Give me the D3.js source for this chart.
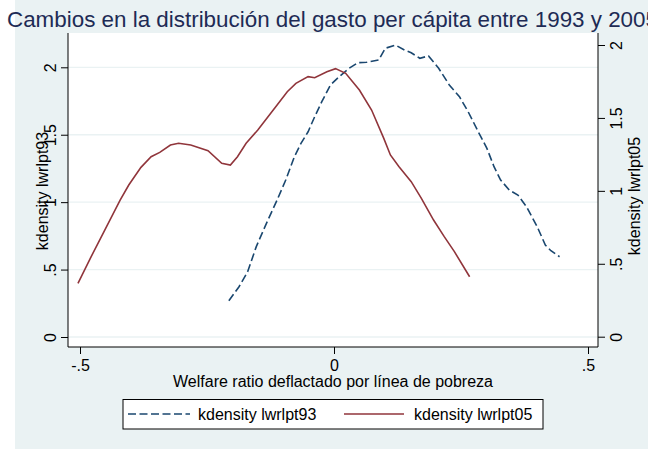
<!DOCTYPE html>
<html>
<head>
<meta charset="utf-8">
<script src="https://cdn.jsdelivr.net/npm/d3@7"></script>
<style>
  body { margin: 0; background: #fff; }
  svg { display: block; font-family: "Liberation Sans", Arial, Helvetica, sans-serif; }
</style>
</head>
<body>
<div id="chart"></div>
<script>
// kdensity lwrlpt93 (left axis)
const x93 = [-0.207, -0.187, -0.170, -0.153, -0.133, -0.112, -0.095, -0.078, -0.065, -0.051,
  -0.038, -0.024, -0.007, 0.010, 0.030, 0.047, 0.064, 0.088, 0.101, 0.121,
  0.139, 0.152, 0.169, 0.186, 0.206, 0.227, 0.247, 0.264, 0.284, 0.301,
  0.315, 0.328, 0.345, 0.362, 0.379, 0.400, 0.416, 0.427, 0.444];
const dens93 = [0.269, 0.373, 0.484, 0.670, 0.843, 1.016, 1.164, 1.337, 1.436, 1.522,
  1.634, 1.745, 1.869, 1.930, 1.993, 2.034, 2.037, 2.054, 2.141, 2.165,
  2.128, 2.108, 2.067, 2.084, 1.993, 1.869, 1.782, 1.671, 1.522, 1.399,
  1.263, 1.164, 1.090, 1.053, 0.966, 0.818, 0.682, 0.640, 0.595];

// kdensity lwrlpt05 (right axis)
const x05 = [-0.504, -0.478, -0.451, -0.421, -0.404, -0.380, -0.360, -0.343, -0.322, -0.306,
  -0.282, -0.248, -0.221, -0.204, -0.190, -0.173, -0.150, -0.112, -0.092, -0.075,
  -0.051, -0.038, -0.014, 0.003, 0.023, 0.050, 0.074, 0.098, 0.111, 0.128,
  0.152, 0.172, 0.196, 0.217, 0.237, 0.267];
const dens05 = [0.366, 0.549, 0.732, 0.937, 1.040, 1.161, 1.234, 1.264, 1.314, 1.326,
  1.314, 1.275, 1.189, 1.177, 1.234, 1.326, 1.417, 1.589, 1.680, 1.737,
  1.783, 1.776, 1.817, 1.838, 1.806, 1.691, 1.554, 1.360, 1.246, 1.166,
  1.063, 0.949, 0.800, 0.686, 0.583, 0.411];

const xTicks = [-0.5, 0, 0.5];
const xTickLabels = ["-.5", "0", ".5"];
const yTicks = [0, 0.5, 1, 1.5, 2];
const yTickLabels = ["0", ".5", "1", "1.5", "2"];

const titleText = "Cambios en la distribución del gasto per cápita entre 1993 y 2005";
const xTitle = "Welfare ratio deflactado por línea de pobreza";
const yTitleL = "kdensity lwrlpt93";
const yTitleR = "kdensity lwrlpt05";
const legendLabels = ["kdensity lwrlpt93", "kdensity lwrlpt05"];

const W = 648, H = 449;
const bg = "#eaf2f3";
const blue = "#1a476f", red = "#90353b";

// plot region
const plotL = 68, plotR = 598, plotT = 33, plotB = 347;

const x = d3.scaleLinear().domain([-0.5, 0.5]).range([80, 588]);
const yL = d3.scaleLinear().domain([0, 2]).range([337, 67.3]);
const yR = d3.scaleLinear().domain([0, 2]).range([336.7, 45]);

const svg = d3.select("#chart").append("svg")
  .attr("width", W).attr("height", H);

svg.append("rect").attr("width", W).attr("height", H).attr("fill", "#fff");
svg.append("rect").attr("x", 15).attr("y", 0).attr("width", W - 15).attr("height", H).attr("fill", bg);

// title (runs past the right edge, as in the original)
svg.append("text")
  .attr("x", 7).attr("y", 27)
  .attr("font-size", 22.4)
  .attr("fill", "#1e2b55")
  .text(titleText);

// plot area
svg.append("rect")
  .attr("x", plotL).attr("y", plotT)
  .attr("width", plotR - plotL).attr("height", plotB - plotT)
  .attr("fill", "#fff");

// grid lines
svg.selectAll(".grid")
  .data(yTicks)
  .enter().append("line")
  .attr("x1", plotL).attr("x2", plotR)
  .attr("y1", d => yL(d)).attr("y2", d => yL(d))
  .attr("stroke", bg).attr("stroke-width", 1.3);

// curves
const line93 = d3.line().x((d, i) => x(x93[i])).y(d => yL(d));
const line05 = d3.line().x((d, i) => x(x05[i])).y(d => yR(d));

svg.append("path")
  .attr("d", line93(dens93))
  .attr("fill", "none")
  .attr("stroke", blue)
  .attr("stroke-width", 1.6)
  .attr("stroke-dasharray", "8,3.5");

svg.append("path")
  .attr("d", line05(dens05))
  .attr("fill", "none")
  .attr("stroke", red)
  .attr("stroke-width", 1.6);

// left axis
const axL = svg.append("g").attr("transform", "translate(" + plotL + ",0)")
  .call(d3.axisLeft(yL).tickValues(yTicks).tickSize(7).tickFormat((d, i) => yTickLabels[i]));
axL.select(".domain").attr("d", "M0," + plotT + "V" + plotB);
axL.selectAll("text")
  .attr("font-size", 16).attr("fill", "#000")
  .attr("x", null).attr("dy", null)
  .attr("text-anchor", "middle")
  .attr("dominant-baseline", "central")
  .attr("transform", "translate(-18,0) rotate(-90)");

// right axis
const axR = svg.append("g").attr("transform", "translate(" + plotR + ",0)")
  .call(d3.axisRight(yR).tickValues(yTicks).tickSize(7).tickFormat((d, i) => yTickLabels[i]));
axR.select(".domain").attr("d", "M0," + plotT + "V" + plotB);
axR.selectAll("text")
  .attr("font-size", 16).attr("fill", "#000")
  .attr("x", null).attr("dy", null)
  .attr("text-anchor", "middle")
  .attr("dominant-baseline", "central")
  .attr("transform", "translate(18,0) rotate(-90)");

// bottom axis
const axB = svg.append("g").attr("transform", "translate(0," + plotB + ")")
  .call(d3.axisBottom(x).tickValues(xTicks).tickSize(7).tickFormat((d, i) => xTickLabels[i]));
axB.select(".domain").attr("d", "M" + plotL + ",0H" + plotR);
axB.selectAll("text")
  .attr("font-size", 16).attr("fill", "#000")
  .attr("y", 24).attr("dy", null);

svg.selectAll(".domain, .tick line").attr("stroke", "#000");

// axis titles
svg.append("text")
  .attr("transform", "translate(42,191) rotate(-90)")
  .attr("text-anchor", "middle").attr("dominant-baseline", "central")
  .attr("font-size", 16)
  .text(yTitleL);

svg.append("text")
  .attr("transform", "translate(634,196) rotate(-90)")
  .attr("text-anchor", "middle").attr("dominant-baseline", "central")
  .attr("font-size", 16)
  .text(yTitleR);

svg.append("text")
  .attr("x", 333).attr("y", 387)
  .attr("text-anchor", "middle")
  .attr("font-size", 16)
  .text(xTitle);

// legend
const lg = svg.append("g");
lg.append("rect")
  .attr("x", 123).attr("y", 399.5)
  .attr("width", 420).attr("height", 29.5)
  .attr("fill", "#fff").attr("stroke", "#000").attr("stroke-width", 1);

const legendItems = [
  { label: legendLabels[0], color: blue, dash: "8,3.5", x0: 128, x1: 190, tx: 198 },
  { label: legendLabels[1], color: red, dash: null, x0: 344, x1: 404, tx: 414 }
];
legendItems.forEach(d => {
  lg.append("line")
    .attr("x1", d.x0).attr("x2", d.x1)
    .attr("y1", 414).attr("y2", 414)
    .attr("stroke", d.color).attr("stroke-width", 1.6)
    .attr("stroke-dasharray", d.dash);
  lg.append("text")
    .attr("x", d.tx).attr("y", 420)
    .attr("font-size", 16)
    .text(d.label);
});
</script>
</body>
</html>
